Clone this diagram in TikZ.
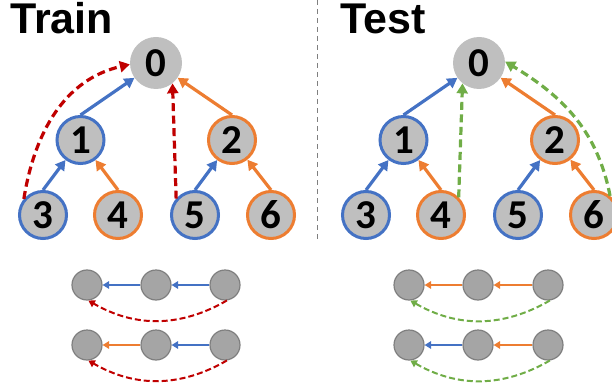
\documentclass[tikz,border=0pt]{standalone}
\usepackage{fontspec}
\setmainfont{Carlito}
\newfontfamily\titlefont{Liberation Sans}
\usetikzlibrary{arrows.meta}
\definecolor{cblue}{HTML}{4472C4}
\definecolor{corange}{HTML}{ED7D31}
\definecolor{cred}{HTML}{C00000}
\definecolor{cgreen}{HTML}{70AD47}
\definecolor{ngray}{HTML}{BFBFBF}
\definecolor{sgray}{HTML}{A5A5A5}
\definecolor{sborder}{HTML}{7F7F7F}
\begin{document}
\begin{tikzpicture}[x=1pt,y=1pt,
  root/.style={circle,minimum size=52pt,inner sep=0pt,fill=ngray,font=\fontsize{41}{41}\selectfont\bfseries},
  big/.style={root,minimum size=47pt,line width=3pt},
  bl/.style={big,draw=cblue},
  og/.style={big,draw=corange},
  sm/.style={circle,minimum size=30pt,inner sep=0pt,fill=sgray,draw=sborder,line width=1.2pt},
  edge/.style={line width=3.2pt,-{Triangle[length=10pt,width=11pt]}},
  dedge/.style={edge,dash pattern=on 8pt off 4.5pt},
  sedge/.style={line width=2pt,-{Triangle[length=6.5pt,width=7.5pt]}},
  dsedge/.style={sedge,dash pattern=on 6pt off 3pt},
  title/.style={anchor=base west,inner sep=0pt,text height=31pt,text depth=0pt,font=\titlefont\fontsize{43}{43}\selectfont\bfseries}
]
\useasboundingbox (0,0) rectangle (612,-390);

% titles
\node[title] (ttrain) at (10,-34) {Train};
\node[title] (ttest) at (340,-34) {Test};

% divider
\draw[sborder,line width=1pt,dash pattern=on 5pt off 4pt] (317,0) -- (317,-240);

% Train tree
\node[root] (a0) at (156,-63) {0};
\node[bl] (a1) at (80.5,-140) {1};
\node[og] (a2) at (232,-140) {2};
\node[bl] (a3) at (43,-215) {3};
\node[og] (a4) at (118,-215) {4};
\node[bl] (a5) at (195,-215) {5};
\node[og] (a6) at (271,-215) {6};

\draw[edge,cblue] (a1.north) -- (a0);
\draw[edge,corange] (a2.north) -- (a0);
\draw[edge,cblue] (a3.north) -- (a1);
\draw[edge,corange] (a4.north) -- (a1);
\draw[edge,cblue] (a5.north) -- (a2);
\draw[edge,corange] (a6.north) -- (a2);
\draw[dedge,cred] (a3.140) to[out=81,in=193] (a0.183);
\draw[dedge,cred] (a5.139) -- (a0.-51);

% Test tree
\node[root] (b0) at (479,-63) {0};
\node[bl] (b1) at (403.5,-140) {1};
\node[og] (b2) at (555,-140) {2};
\node[bl] (b3) at (366,-215) {3};
\node[og] (b4) at (441,-215) {4};
\node[bl] (b5) at (518,-215) {5};
\node[og] (b6) at (594,-215) {6};

\draw[edge,cblue] (b1.north) -- (b0);
\draw[edge,corange] (b2.north) -- (b0);
\draw[edge,cblue] (b3.north) -- (b1);
\draw[edge,corange] (b4.north) -- (b1);
\draw[edge,cblue] (b5.north) -- (b2);
\draw[edge,corange] (b6.north) -- (b2);
\draw[dedge,cgreen] (b4.45) -- (b0.231);
\draw[dedge,cgreen] (b6.50) to[out=101,in=-31] (b0.3);

% Train chains
\node[sm] (p1) at (87,-285) {};
\node[sm] (p2) at (156,-285) {};
\node[sm] (p3) at (225,-285) {};
\node[sm] (q1) at (87,-345) {};
\node[sm] (q2) at (156,-345) {};
\node[sm] (q3) at (225,-345) {};
\draw[sedge,cblue] (p3) -- (p2);
\draw[sedge,cblue] (p2) -- (p1);
\draw[sedge,cblue] (q3) -- (q2);
\draw[sedge,corange] (q2) -- (q1);
\draw[dsedge,cred] (p3.-83) to[out=-150,in=-30] (p1.-85);
\draw[dsedge,cred] (q3.-83) to[out=-150,in=-30] (q1.-85);

% Test chains
\node[sm] (r1) at (409,-285) {};
\node[sm] (r2) at (478,-285) {};
\node[sm] (r3) at (548,-285) {};
\node[sm] (s1) at (409,-345) {};
\node[sm] (s2) at (478,-345) {};
\node[sm] (s3) at (548,-345) {};
\draw[sedge,corange] (r3) -- (r2);
\draw[sedge,corange] (r2) -- (r1);
\draw[sedge,corange] (s3) -- (s2);
\draw[sedge,cblue] (s2) -- (s1);
\draw[dsedge,cgreen] (r3.-83) to[out=-150,in=-30] (r1.-85);
\draw[dsedge,cgreen] (s3.-83) to[out=-150,in=-30] (s1.-85);
\end{tikzpicture}
\end{document}
